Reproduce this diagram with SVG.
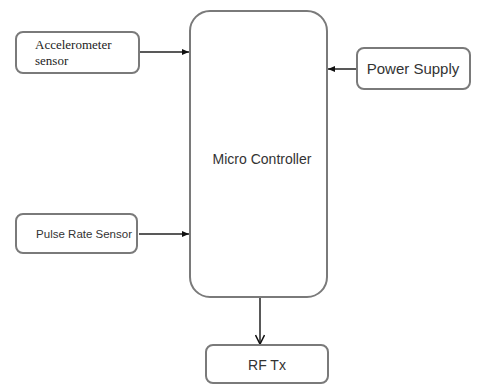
<svg xmlns="http://www.w3.org/2000/svg" width="477" height="385" viewBox="0 0 477 385">
<defs>
<style>
.box{fill:#fff;stroke:#7a7a7a;stroke-width:2}
.ln{stroke:#222;stroke-width:1.5;fill:none}
.serif{font-family:"Liberation Serif",serif;fill:#222}
.sans{font-family:"Liberation Sans",Arial,sans-serif;fill:#333}
</style>
<marker id="ah" markerWidth="8" markerHeight="8" refX="7" refY="4" orient="auto" markerUnits="userSpaceOnUse">
<path d="M0,1 L7,4 L0,7 Z" fill="#111"/>
</marker>
<marker id="av" markerWidth="12" markerHeight="10" refX="10" refY="5" orient="auto" markerUnits="userSpaceOnUse">
<path d="M1,0.5 L10,5 L1,9.5" fill="none" stroke="#111" stroke-width="1.5"/>
</marker>
</defs>
<rect width="477" height="385" fill="#fff"/>
<g id="connectors">
<line class="ln" x1="140" y1="52" x2="189" y2="52" marker-end="url(#ah)"/>
<line class="ln" x1="139" y1="234" x2="189" y2="234" marker-end="url(#ah)"/>
<line class="ln" x1="357" y1="69" x2="328" y2="69" marker-end="url(#ah)"/>
<line class="ln" x1="260" y1="297" x2="260" y2="344" marker-end="url(#av)"/>
</g>
<g id="micro-controller">
<rect class="box" x="190" y="11" width="137" height="286" rx="20" ry="20"/>
<text class="sans" x="262" y="164" font-size="14" text-anchor="middle">Micro Controller</text>
</g>
<g id="accelerometer">
<rect class="box" x="16" y="32" width="123" height="41" rx="7" ry="7"/>
<text class="serif" x="35" y="49" font-size="13">Accelerometer</text>
<text class="serif" x="35" y="65" font-size="13">sensor</text>
</g>
<g id="pulse-rate">
<rect class="box" x="16" y="214" width="121" height="39" rx="7" ry="7"/>
<text class="sans" x="132" y="238" font-size="11.5" text-anchor="end">Pulse Rate Sensor</text>
</g>
<g id="power-supply">
<rect class="box" x="357" y="48" width="113" height="41" rx="7" ry="7"/>
<text class="sans" x="413" y="74" font-size="15" text-anchor="middle">Power Supply</text>
</g>
<g id="rf-tx">
<rect class="box" x="206" y="345" width="122" height="38" rx="7" ry="7"/>
<text class="sans" x="267" y="370" font-size="14" text-anchor="middle">RF Tx</text>
</g>
</svg>
